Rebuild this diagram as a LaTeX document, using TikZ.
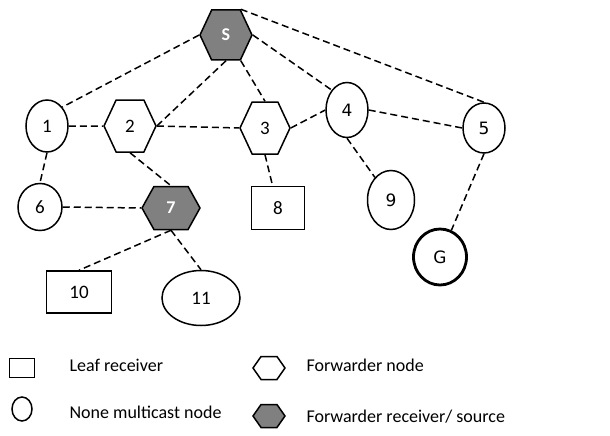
\documentclass[tikz,border=0pt]{standalone}
\usepackage{fontspec}
\setmainfont{Carlito}
\newfontfamily\dvfont{DejaVu Sans}
\usetikzlibrary{shapes.geometric, shapes.symbols}
\definecolor{fwdgray}{RGB}{128,128,128}
\tikzstyle{member}=[ellipse, draw, line width=1.5pt, inner sep=0pt]
\tikzstyle{forwarder}=[signal, signal to=west and east, signal pointer angle=130, draw, line width=1.5pt, inner sep=0pt, minimum width=52pt, minimum height=52pt]
\tikzstyle{fwdsource}=[forwarder, fill=fwdgray, text=white, font=\bfseries\fontsize{18}{20}\selectfont]
\tikzstyle{leaf}=[rectangle, draw, line width=1.5pt, inner sep=0pt]
\tikzstyle{link}=[dash pattern=on 7pt off 4pt, line width=1.5pt]

\begin{document}
\begin{tikzpicture}[x=1pt, y=-1pt, font=\fontsize{19}{21}\selectfont]
                    \useasboundingbox (0, 0) rectangle (610, 436);
                    \node[fwdsource, minimum height=50pt] (s) at (226, 35) {S};
                    \node[member, minimum width=42pt, minimum height=52pt] (n1) at (47, 126) {1};
                    \node[forwarder] (n2) at (130, 126) {2};
                    \node[forwarder, minimum width=50pt] (n3) at (265, 128) {3};
                    \node[member, minimum width=42pt, minimum height=55pt, font=\dvfont\fontsize{17}{19}\selectfont] (n4) at (347, 110) {4};
                    \node[member, minimum width=42pt, minimum height=50pt, font=\dvfont\fontsize{17}{19}\selectfont] (n5) at (484, 128) {5};
                    \node[member, minimum width=44pt, minimum height=47pt] (n6) at (40, 207) {6};
                    \node[fwdsource, signal pointer angle=122, minimum width=58pt, minimum height=43pt] (n7) at (171, 208) {7};
                    \node[leaf, minimum width=53pt, minimum height=43pt] (n8) at (278, 208) {8};
                    \node[member, minimum width=47pt, minimum height=59pt, font=\dvfont\fontsize{17}{19}\selectfont] (n9) at (391, 200) {9};
                    \node[leaf, minimum width=65pt, minimum height=42pt] (n10) at (79, 292) {10};
                    \node[member, minimum width=78pt, minimum height=55pt] (n11) at (201, 298) {11};
                    \node[member, line width=2.8pt, minimum width=53pt, minimum height=56pt, font=\dvfont\fontsize{17}{19}\selectfont] (g) at (440, 257) {G};
                    \draw[link] (s.west)--(n1.north east) (s.south)--(n2.east) (s.south east)--(n3.north)
                        (s.east)--(n4.north west) (s.north east)--(n5.north);
                    \draw[link] (n1.east)--(n2.west) (n2.east)--(n3.west) (n3.east)--(n4.west) (n4.east)--(n5.west);
                    \draw[link] (n1.south)--(n6.north) (n2.south)--(n7.north) (n6.east)--(n7.west) (n3.south)--(n8);
                    \draw[link] (n4.south)--(n9) (n5.south)--(g) (n7.south)--(n10.north) (n7.south)--(n11.north);
                    % legend
                    \node[leaf, minimum width=25pt, minimum height=19pt] (kleaf) at (22, 368) {};
                    \node[member, minimum width=20pt, minimum height=24pt] (kmember) at (22, 409) {};
                    \node[forwarder, signal pointer angle=110, minimum width=32pt, minimum height=23pt] (kfwd) at (269, 368) {};
                    \node[forwarder, signal pointer angle=110, fill=fwdgray, minimum width=32pt, minimum height=23pt] (ksource) at (269, 416) {};
                    \node[anchor=west, font=\fontsize{18}{20}\selectfont] (tleaf) at (66, 365) {Leaf receiver};
                    \node[anchor=west, font=\fontsize{18}{20}\selectfont] (tmember) at (66, 412) {None multicast node};
                    \node[anchor=west, font=\fontsize{18}{20}\selectfont] (tfwd) at (303, 365) {Forwarder node};
                    \node[anchor=west, font=\fontsize{18}{20}\selectfont] (tsource) at (303, 417) {Forwarder receiver/ source};
                \end{tikzpicture}
\end{document}
